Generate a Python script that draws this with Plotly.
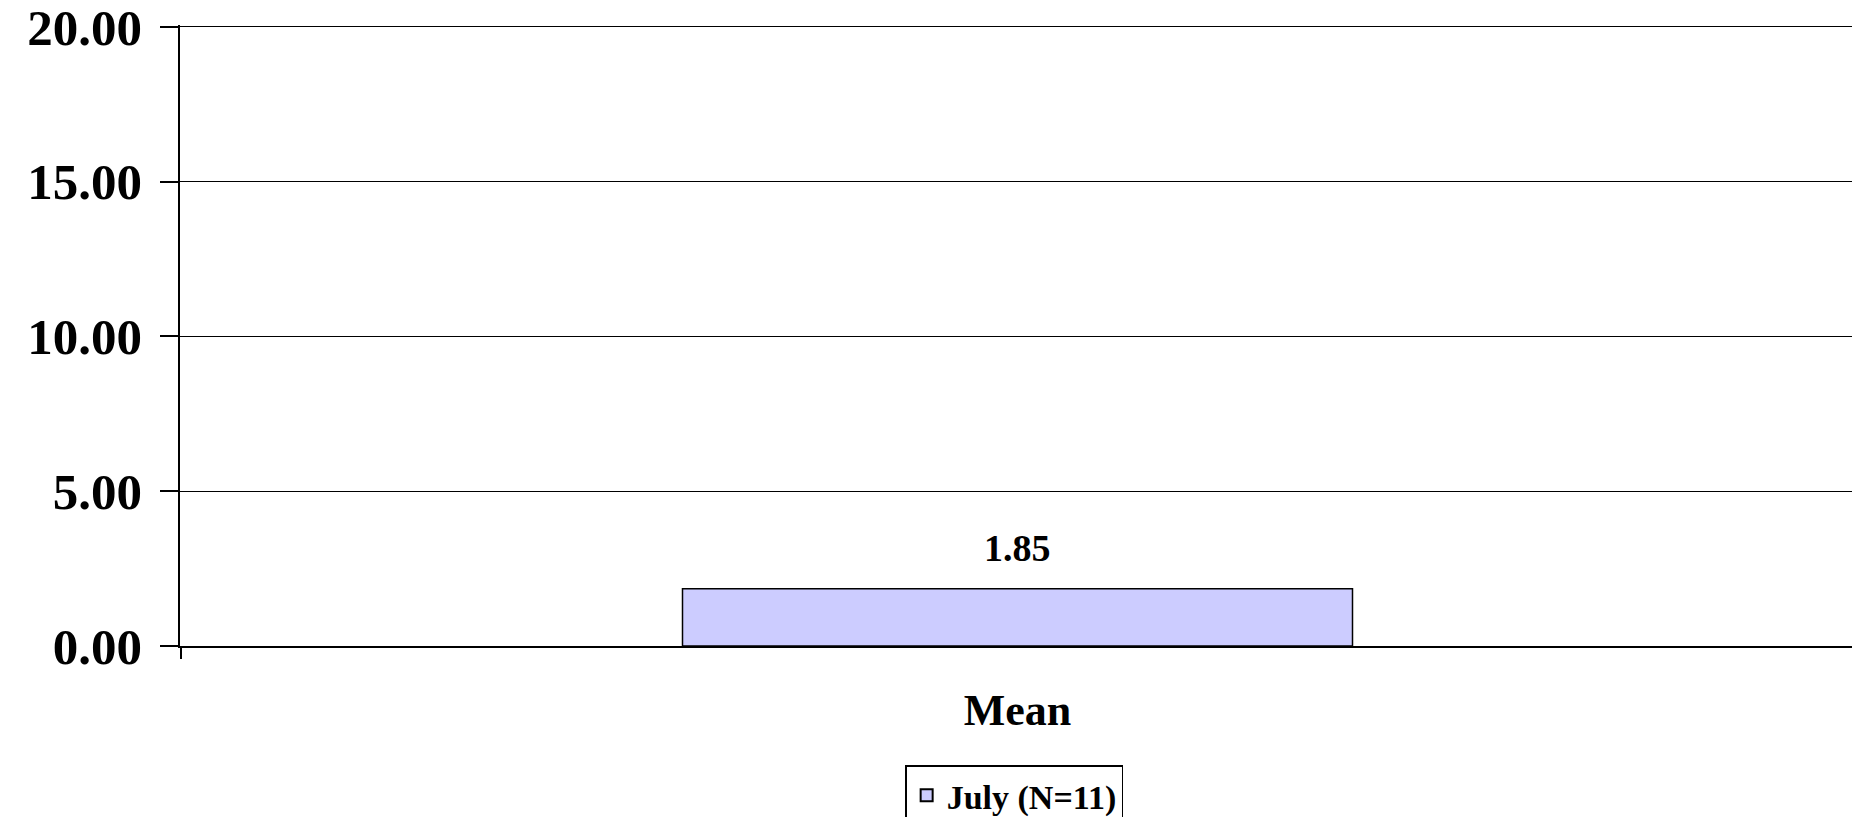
import plotly.graph_objects as go

categories = ["Mean"]
series_name = "July (N=11)"
values = [1.85]
y_ticks = [0, 5, 10, 15, 20]

FONT = "Liberation Serif, Times New Roman, serif"

fig = go.Figure()
fig.add_trace(go.Bar(
    x=categories, y=values, name=series_name,
    marker=dict(color="#CCCCFF", line=dict(color="black", width=1.5)),
    width=0.4, showlegend=True,
))
for c, v in zip(categories, values):
    fig.add_annotation(x=c, y=v, text=f"{v:.2f}", showarrow=False,
                       yanchor="bottom", yshift=18,
                       font=dict(family=FONT, size=38, color="black", weight="bold"))

# category boundary ticks (left and right edges of the single category slot)
n = len(categories)
boundaries = [i - 0.5 for i in range(n + 1)]
fig.add_trace(go.Scatter(x=boundaries, y=[0] * len(boundaries), xaxis="x2", yaxis="y",
                         mode="markers", marker=dict(size=1, opacity=0),
                         showlegend=False, hoverinfo="skip"))

fig.update_layout(
    width=1852, height=809,
    margin=dict(l=172, r=5, t=17, b=171, autoexpand=False),
    paper_bgcolor="white", plot_bgcolor="white",
    font=dict(family=FONT, color="black", weight="bold"),
    showlegend=True,
    legend=dict(orientation="h", x=0.498, xanchor="center", y=-0.192, yanchor="top",
                bordercolor="black", borderwidth=1.5,
                font=dict(family=FONT, size=34, color="black", weight="bold"),
                itemsizing="constant"),
    xaxis=dict(showline=True, linecolor="black", linewidth=1.5, automargin=False,
               range=[-0.5, n - 0.5],
               ticks="", ticklen=0,
               tickfont=dict(family=FONT, size=44, color="black", weight="bold"),
               ticklabelstandoff=24, showgrid=False, fixedrange=True),
    xaxis2=dict(overlaying="x", anchor="y", side="bottom", type="linear",
                range=[-0.5005, n - 0.499], tickmode="array", tickvals=boundaries,
                ticktext=[""] * len(boundaries), showline=False, showgrid=False,
                zeroline=False, ticks="outside", ticklen=12, tickcolor="black",
                tickwidth=2, automargin=False, fixedrange=True),
    yaxis=dict(range=[0, 20.06], tickvals=y_ticks, tickformat=".2f", automargin=False,
               ticklabeloverflow="allow",
               showline=True, linecolor="black", linewidth=1.5,
               ticks="outside", ticklen=18, tickcolor="black", tickwidth=1.5,
               showgrid=True, gridcolor="black", gridwidth=1.2, zeroline=False,
               tickfont=dict(family=FONT, size=51, color="black", weight="bold"),
               ticklabelstandoff=8),
)
fig.write_html("out.html")
